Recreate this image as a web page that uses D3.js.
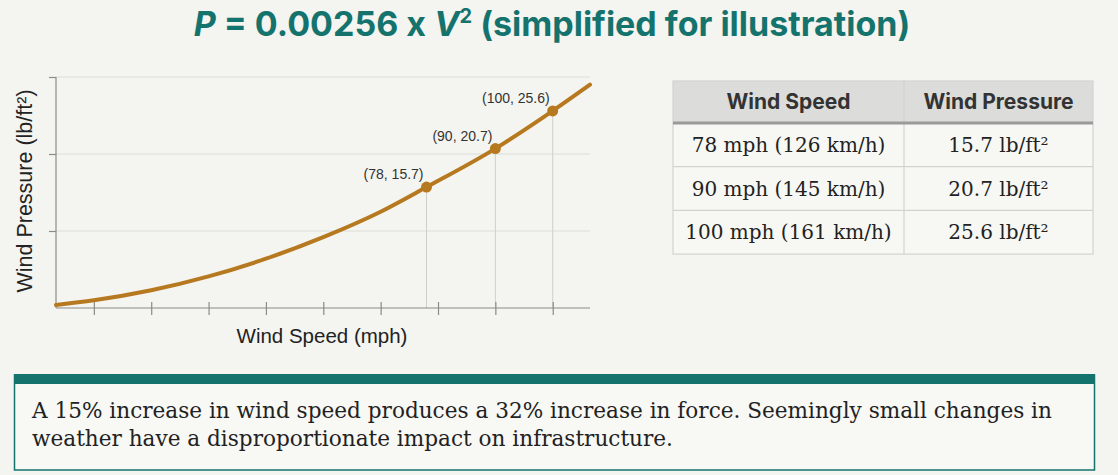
<!DOCTYPE html>
<html>
<head>
<meta charset="utf-8">
<script src="https://cdn.jsdelivr.net/npm/d3@7"></script>
<style>
  body { margin: 0; background: #f4f4f0; }
  svg { display: block; }
</style>
</head>
<body>
<svg id="chart" width="1118" height="475"></svg>
<script>
// -- data -- //
const curveSpeed = [13.4, 20, 30, 40, 50, 60, 70, 78, 90, 100, 106.5];
const curvePressure = [0.4, 1.0, 2.3, 4.1, 6.4, 9.2, 12.5, 15.7, 20.7, 25.6, 29.0];
const pointSpeed = [78, 90, 100];
const pointPressure = [15.7, 20.7, 25.6];
const xTicks = [20, 30, 40, 50, 60, 70, 80, 90, 100];
const yTicks = [10, 20, 30];
const tableHeaders = ['Wind Speed', 'Wind Pressure'];
const rowSpeed = ['78 mph (126 km/h)', '90 mph (145 km/h)', '100 mph (161 km/h)'];
const rowPressure = ['15.7 lb/ft²', '20.7 lb/ft²', '25.6 lb/ft²'];
const noteLines = [
  'A 15% increase in wind speed produces a 32% increase in force. Seemingly small changes in',
  'weather have a disproportionate impact on infrastructure.'
];

const teal = '#15736d';
const gold = '#b7791f';
const svg = d3.select('#chart');

// -- title -- //
const title = svg.append('text')
  .attr('x', 552).attr('y', 36)
  .attr('text-anchor', 'middle')
  .style('font-family', 'Inter, Roboto, sans-serif')
  .style('font-weight', 'bold')
  .style('font-size', '34px')
  .style('fill', teal);
title.append('tspan').style('font-style', 'italic').text('P');
title.append('tspan').text(' = 0.00256 x ');
title.append('tspan').style('font-style', 'italic').text('V');
title.append('tspan').attr('dy', -13).style('font-size', '20px').text('2');
title.append('tspan').attr('dy', 13).text(' (simplified for illustration)');

// -- scales -- //
const xScale = d3.scaleLinear().domain([13.4, 106.5]).range([56, 590]);
const yScale = d3.scaleLinear().domain([0, 30]).range([308, 77]);

const plot = svg.append('g');

// gridlines
plot.selectAll('.grid')
  .data(yTicks)
  .enter().append('line')
  .attr('x1', 56).attr('x2', 590)
  .attr('y1', d => yScale(d)).attr('y2', d => yScale(d))
  .style('stroke', '#dcdcd8').style('stroke-width', 1);

// drop lines
plot.selectAll('.drop')
  .data(pointSpeed)
  .enter().append('line')
  .attr('x1', d => xScale(d)).attr('x2', d => xScale(d))
  .attr('y1', (d, i) => yScale(pointPressure[i])).attr('y2', yScale(0))
  .style('stroke', '#cfcfcb').style('stroke-width', 1);

// axes
const xAxis = d3.axisBottom(xScale).tickValues(xTicks).tickSize(7).tickFormat('');
const gx = plot.append('g').attr('transform', `translate(0,${yScale(0)})`).call(xAxis);
gx.select('.domain').attr('d', 'M56,0H590');
gx.selectAll('.tick line').attr('y1', -6);

const yAxis = d3.axisLeft(yScale).tickValues(yTicks).tickSize(7).tickFormat('');
const gy = plot.append('g').attr('transform', 'translate(56,0)').call(yAxis);
gy.select('.domain').attr('d', `M0,${yScale(30)}V${yScale(0)}`);

plot.selectAll('.domain, .tick line').style('stroke', '#8a8a88').style('stroke-width', 1.2);

// curve
const line = d3.line()
  .x(d => xScale(d[0]))
  .y(d => yScale(d[1]))
  .curve(d3.curveMonotoneX);
plot.append('path')
  .datum(curveSpeed.map((v, i) => [v, curvePressure[i]]))
  .attr('d', line)
  .style('fill', 'none')
  .style('stroke', gold)
  .style('stroke-width', 4)
  .style('stroke-linecap', 'round');

// points
plot.selectAll('.point')
  .data(pointSpeed)
  .enter().append('circle')
  .attr('class', 'point')
  .attr('cx', d => xScale(d))
  .attr('cy', (d, i) => yScale(pointPressure[i]))
  .attr('r', 5.5)
  .style('fill', gold);

plot.selectAll('.plabel')
  .data(pointSpeed)
  .enter().append('text')
  .attr('x', d => xScale(d) - 3)
  .attr('y', (d, i) => yScale(pointPressure[i]) - 8)
  .attr('text-anchor', 'end')
  .style('font-family', 'Liberation Sans, Arial, sans-serif')
  .style('font-size', '14px')
  .style('fill', '#333')
  .text((d, i) => `(${d}, ${pointPressure[i]})`);

// axis labels
svg.append('text')
  .attr('x', 322).attr('y', 343)
  .attr('text-anchor', 'middle')
  .style('font-family', 'Liberation Sans, Arial, sans-serif')
  .style('font-size', '20.5px')
  .style('fill', '#222')
  .text('Wind Speed (mph)');

svg.append('text')
  .attr('transform', 'translate(32,191) rotate(-90)')
  .attr('text-anchor', 'middle')
  .style('font-family', 'Liberation Sans, Arial, sans-serif')
  .style('font-size', '21.5px')
  .style('fill', '#222')
  .text('Wind Pressure (lb/ft²)');

// -- table -- //
const tLeft = 673, tRight = 1093, tDiv = 904;
const tTop = 81, headH = 42, rowH = 43.7;
const table = svg.append('g');

table.append('rect')
  .attr('x', tLeft).attr('y', tTop)
  .attr('width', tRight - tLeft).attr('height', headH)
  .style('fill', '#dcdcda');
table.append('rect')
  .attr('x', tLeft).attr('y', tTop + headH)
  .attr('width', tRight - tLeft).attr('height', rowH * rowSpeed.length)
  .style('fill', '#f7f7f4');

table.selectAll('.rowline')
  .data(d3.range(1, rowSpeed.length))
  .enter().append('line')
  .attr('x1', tLeft).attr('x2', tRight)
  .attr('y1', d => tTop + headH + d * rowH).attr('y2', d => tTop + headH + d * rowH)
  .style('stroke', '#d2d2cf').style('stroke-width', 1.2);

table.append('line')
  .attr('x1', tDiv).attr('x2', tDiv)
  .attr('y1', tTop).attr('y2', tTop + headH + rowH * rowSpeed.length)
  .style('stroke', '#d2d2cf').style('stroke-width', 1.2);

table.append('rect')
  .attr('x', tLeft).attr('y', tTop)
  .attr('width', tRight - tLeft).attr('height', headH + rowH * rowSpeed.length)
  .style('fill', 'none').style('stroke', '#d2d2cf').style('stroke-width', 1.2);

table.append('line')
  .attr('x1', tLeft).attr('x2', tRight)
  .attr('y1', tTop + headH).attr('y2', tTop + headH)
  .style('stroke', '#9a9a98').style('stroke-width', 3);

const colCenter = [(tLeft + tDiv) / 2, (tDiv + tRight) / 2];

table.selectAll('.head')
  .data(tableHeaders)
  .enter().append('text')
  .attr('x', (d, i) => colCenter[i])
  .attr('y', tTop + 28)
  .attr('text-anchor', 'middle')
  .style('font-family', 'Inter, Roboto, sans-serif')
  .style('font-weight', 'bold')
  .style('font-size', '21px')
  .style('fill', '#333')
  .text(d => d);

const cells = [];
rowSpeed.forEach((s, i) => {
  cells.push({ col: 0, row: i, text: s });
  cells.push({ col: 1, row: i, text: rowPressure[i] });
});

table.selectAll('.cell')
  .data(cells)
  .enter().append('text')
  .attr('x', d => colCenter[d.col])
  .attr('y', d => tTop + headH + d.row * rowH + 29)
  .attr('text-anchor', 'middle')
  .style('font-family', 'DejaVu Serif, serif')
  .style('font-size', '20px')
  .style('fill', '#222')
  .text(d => d.text);

// -- note box -- //
const box = svg.append('g');
box.append('rect')
  .attr('x', 14.5).attr('y', 375)
  .attr('width', 1080).attr('height', 95)
  .style('fill', '#f8f8f5')
  .style('stroke', teal).style('stroke-width', 1.5);
box.append('rect')
  .attr('x', 14).attr('y', 374)
  .attr('width', 1081).attr('height', 10)
  .style('fill', teal);

box.selectAll('.note')
  .data(noteLines)
  .enter().append('text')
  .attr('x', 32)
  .attr('y', (d, i) => 418 + i * 28)
  .style('font-family', 'DejaVu Serif, serif')
  .style('font-size', '21.6px')
  .style('fill', '#222')
  .text(d => d);
</script>
</body>
</html>
